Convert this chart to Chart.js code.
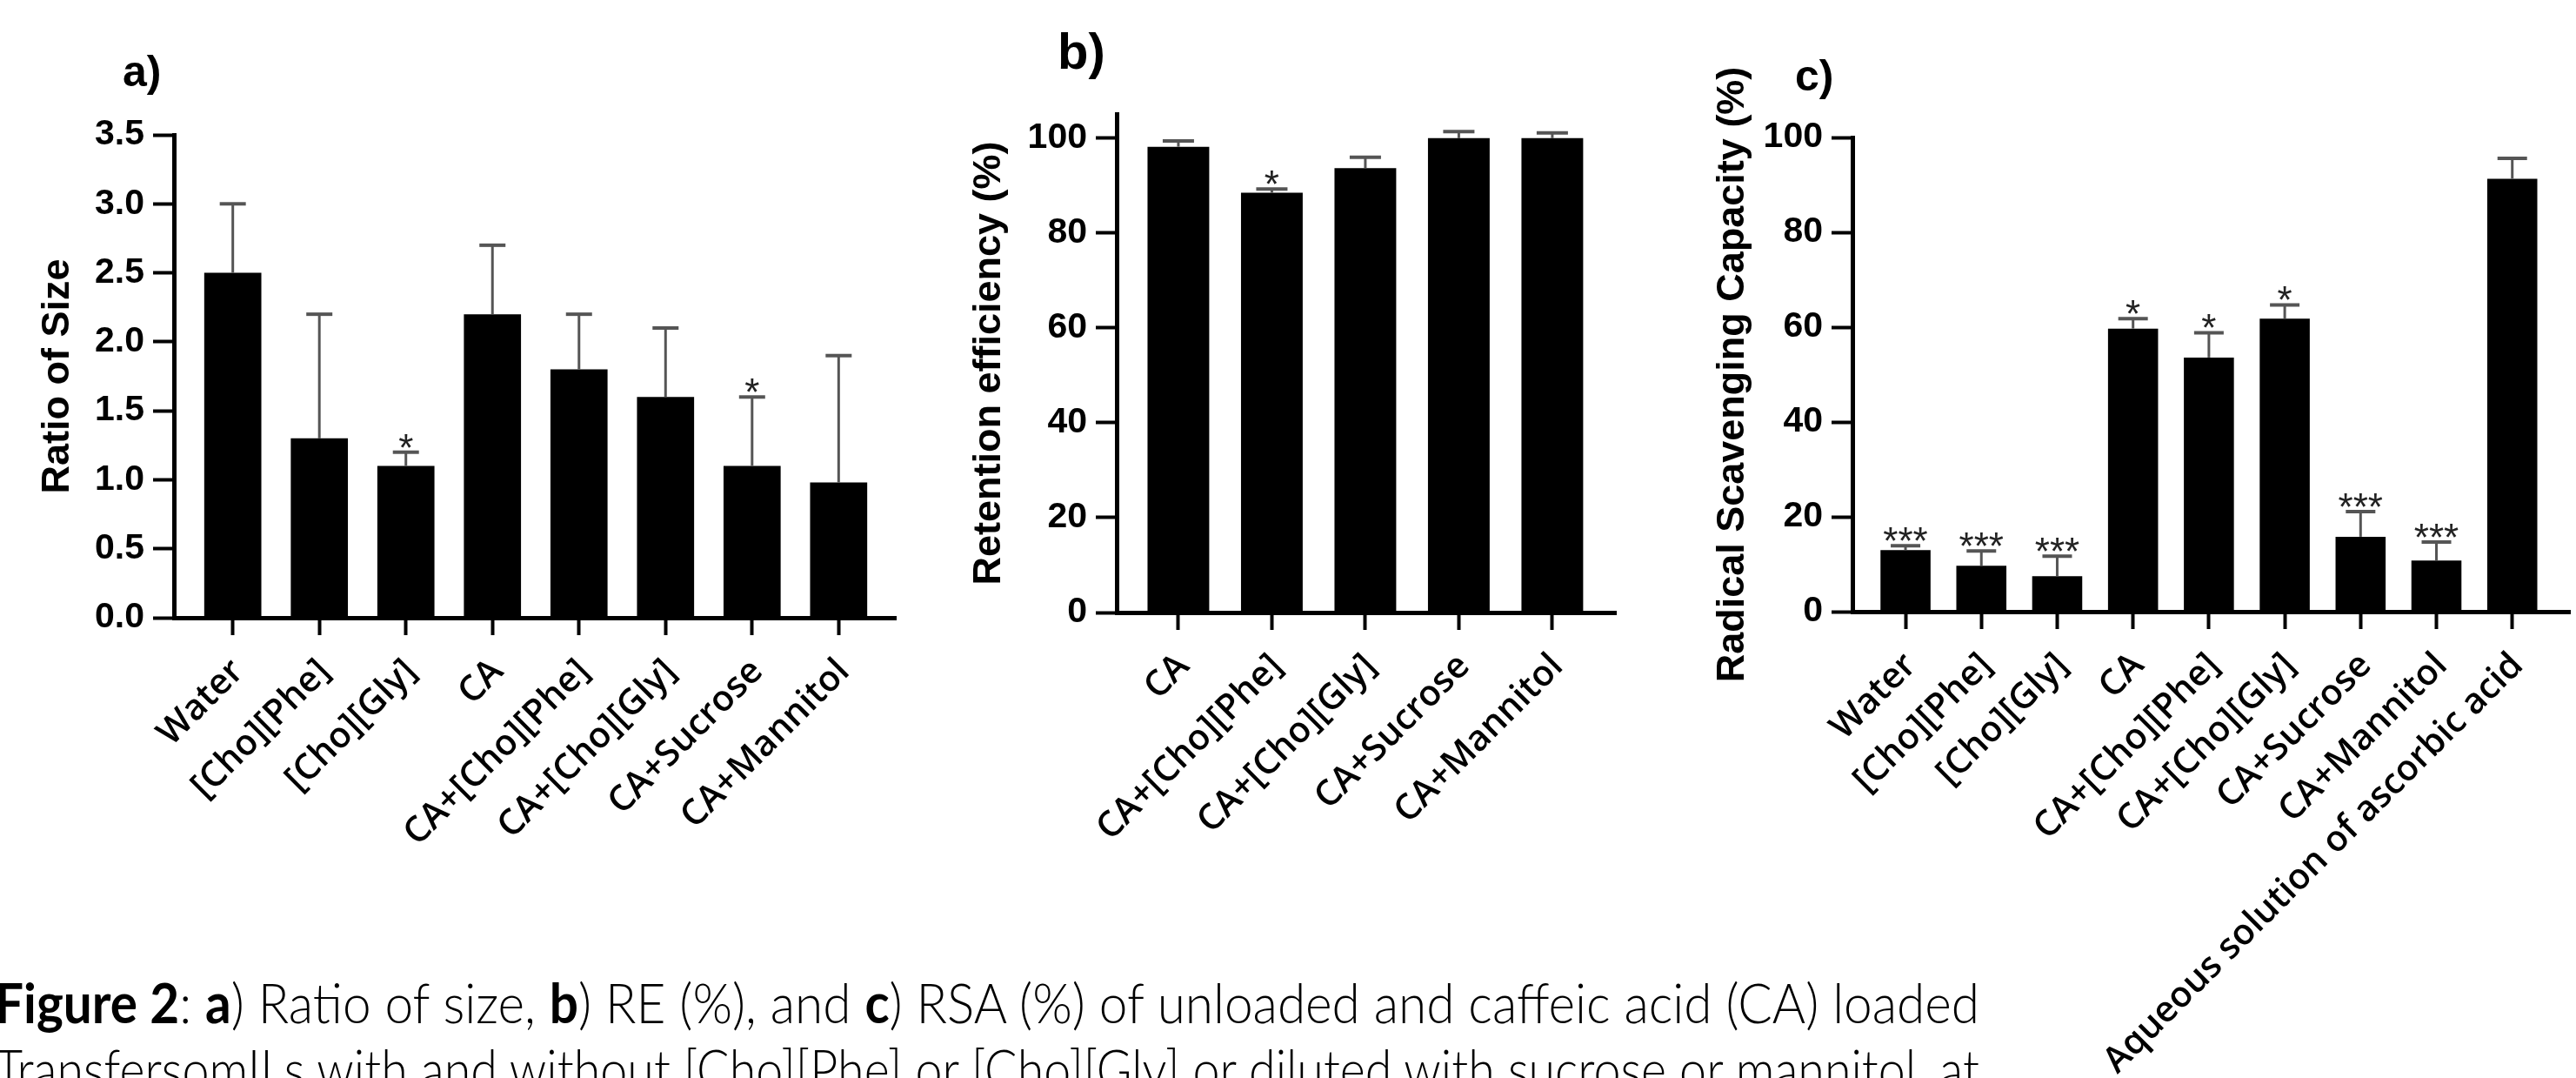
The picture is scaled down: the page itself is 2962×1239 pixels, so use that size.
<!DOCTYPE html>
<html><head><meta charset="utf-8">
<script src="https://cdn.jsdelivr.net/npm/chart.js@4.4.1/dist/chart.umd.min.js"></script>
<style>
html,body{margin:0;padding:0;background:#fff;}
body{width:2962px;height:1239px;position:relative;overflow:hidden;}
canvas{position:absolute;left:0;top:0;}
.plabel{position:absolute;font-family:"Liberation Sans",Arial,sans-serif;font-weight:bold;line-height:1;color:#000;white-space:nowrap;}
.cap{position:absolute;left:-6px;font-family:Lato,"Open Sans",sans-serif;font-weight:300;font-size:64px;line-height:1;white-space:nowrap;color:#000;transform-origin:0 0;}
.cap b{font-weight:700;}
</style></head><body>
<canvas id="ca" width="2962" height="1239"></canvas>
<canvas id="cb" width="2962" height="1239"></canvas>
<canvas id="cc" width="2962" height="1239"></canvas>
<div class="plabel" style="left:141px;top:57px;font-size:50px;">a)</div>
<div class="plabel" style="left:1216px;top:30px;font-size:58px;">b)</div>
<div class="plabel" style="left:2064px;top:62px;font-size:50px;">c)</div>
<div class="cap" id="cap1" style="top:1120px;"><span><b>Figure 2</b>: <b>a</b>) Ratio of size, <b>b</b>) RE (%), and <b>c</b>) RSA (%) of unloaded and caffeic acid (CA) loaded</span></div>
<div class="cap" id="cap2" style="top:1196px;"><span>TransfersomILs with and without [Cho][Phe] or [Cho][Gly] or diluted with sucrose or mannitol, at</span></div>
<script>
// ---- data ----
const catsA = ['Water', '[Cho][Phe]', '[Cho][Gly]', 'CA', 'CA+[Cho][Phe]', 'CA+[Cho][Gly]', 'CA+Sucrose', 'CA+Mannitol'];
const sizeMean = [2.5, 1.3, 1.1, 2.2, 1.8, 1.6, 1.1, 0.98];
const sizeSD = [0.5, 0.9, 0.1, 0.5, 0.4, 0.5, 0.5, 0.92];
const sizeSig = ['', '', '*', '', '', '', '*', ''];
const ticksA = [0, 0.5, 1.0, 1.5, 2.0, 2.5, 3.0, 3.5];

const catsB = ['CA', 'CA+[Cho][Phe]', 'CA+[Cho][Gly]', 'CA+Sucrose', 'CA+Mannitol'];
const reMean = [98.1, 88.4, 93.6, 99.9, 99.9];
const reSD = [1.2, 0.8, 2.3, 1.4, 1.1];
const reSig = ['', '*', '', '', ''];
const ticksB = [0, 20, 40, 60, 80, 100];

const catsC = ['Water', '[Cho][Phe]', '[Cho][Gly]', 'CA', 'CA+[Cho][Phe]', 'CA+[Cho][Gly]', 'CA+Sucrose', 'CA+Mannitol', 'Aqueous solution of ascorbic acid'];
const rsaMean = [13.0, 9.7, 7.5, 59.7, 53.6, 61.8, 15.8, 10.8, 91.3];
const rsaSD = [0.9, 3.1, 4.2, 2.1, 5.2, 2.9, 5.3, 3.9, 4.3];
const rsaSig = ['***', '***', '***', '*', '*', '*', '***', '***', ''];
const ticksC = [0, 20, 40, 60, 80, 100];

// ---- drawing ----
const W = 2962, H = 1239;
const AX = '"Liberation Sans", Arial, sans-serif';
const LBL = '"Open Sans", Lato, sans-serif';

function errPlugin(means, sds, sigs, capW) {
  return {
    id: 'errbars',
    afterDatasetsDraw(chart) {
      const ctx = chart.ctx, xs = chart.scales.x, ys = chart.scales.y;
      ctx.save();
      means.forEach((m, i) => {
        const x = xs.getPixelForValue(i);
        const y0 = ys.getPixelForValue(m);
        const y1 = ys.getPixelForValue(m + sds[i]);
        ctx.strokeStyle = '#555';
        ctx.lineWidth = 3;
        ctx.beginPath(); ctx.moveTo(x, y0); ctx.lineTo(x, y1); ctx.stroke();
        ctx.lineWidth = 4;
        ctx.beginPath(); ctx.moveTo(x - capW / 2, y1); ctx.lineTo(x + capW / 2, y1); ctx.stroke();
        if (sigs[i]) {
          const fs = 44;
          ctx.fillStyle = '#222';
          ctx.font = fs + 'px ' + AX;
          ctx.textAlign = 'center';
          ctx.textBaseline = 'alphabetic';
          ctx.fillText(sigs[i], x, y1 - 9 + 0.43 * fs);
        }
      });
      ctx.restore();
    }
  };
}

function makePanel(id, cats, means, sds, sigs, yTicks, yMax, yTitle, yFmt, g) {
  new Chart(document.getElementById(id), {
    type: 'bar',
    data: {
      datasets: [{
        data: means.map((v, i) => ({ x: i, y: v })),
        backgroundColor: '#000', borderWidth: 0,
        barPercentage: 0.66, categoryPercentage: 1.0
      }]
    },
    options: {
      responsive: false, animation: false, devicePixelRatio: 1,
      layout: { padding: { left: g.titleLeft, top: g.top, right: W - g.right, bottom: 0 } },
      plugins: { legend: { display: false }, tooltip: { enabled: false } },
      scales: {
        x: {
          type: 'linear', min: g.xMin, max: g.xMax, bounds: 'data', offset: false,
          afterBuildTicks: s => { s.ticks = cats.map((_, i) => ({ value: i })); },
          afterFit: s => { s.height = H - g.bottom; },
          ticks: {
            autoSkip: false, minRotation: 45, maxRotation: 45, padding: 18, labelOffset: 6,
            color: '#000', font: { family: LBL, size: 41, weight: '600' },
            callback: v => cats[v]
          },
          grid: { offset: false, drawOnChartArea: false, drawTicks: true, tickLength: 20, tickWidth: 4, tickColor: '#000' },
          border: { display: true, color: '#000', width: 5 }
        },
        y: {
          min: 0, max: yMax,
          afterBuildTicks: s => { s.ticks = yTicks.map(v => ({ value: v })); },
          afterFit: s => { s.width = g.left - g.titleLeft; },
          ticks: { color: '#000', padding: 10, font: { family: AX, size: 41, weight: 'bold' }, callback: yFmt },
          grid: { drawOnChartArea: false, drawTicks: true, tickLength: 24, tickWidth: 4, tickColor: '#000' },
          border: { display: true, color: '#000', width: 5 },
          title: { display: true, text: yTitle, color: '#000', padding: { top: 0, bottom: 0 }, font: { family: AX, size: 45, weight: 'bold' } }
        }
      }
    },
    plugins: [errPlugin(means, sds, sigs, g.capW)]
  });
}

makePanel('ca', catsA, sizeMean, sizeSD, sizeSig, ticksA, 3.5, 'Ratio of Size', v => Number(v).toFixed(1),
  { titleLeft: 40, left: 200, right: 1030, top: 155, bottom: 710, xMin: -0.68, xMax: 7.66, capW: 30 });
makePanel('cb', catsB, reMean, reSD, reSig, ticksB, 105, 'Retention efficiency (%)', v => String(v),
  { titleLeft: 1111, left: 1284, right: 1858, top: 131, bottom: 704, xMin: -0.66, xMax: 4.68, capW: 36 });
makePanel('cc', catsC, rsaMean, rsaSD, rsaSig, ticksC, 100, 'Radical Scavenging Capacity (%)', v => String(v),
  { titleLeft: 1966, left: 2130, right: 2955, top: 158, bottom: 703, xMin: -0.70, xMax: 8.76, capW: 34 });

// fit caption lines to the original right edge (narrow, tall face like the original)
['cap1', 'cap2'].forEach(id => {
  const div = document.getElementById(id);
  const span = div.querySelector('span');
  const target = 2282;
  const w = span.getBoundingClientRect().width;
  div.style.transform = 'scaleX(' + (target / w) + ')';
});
</script>
</body></html>
